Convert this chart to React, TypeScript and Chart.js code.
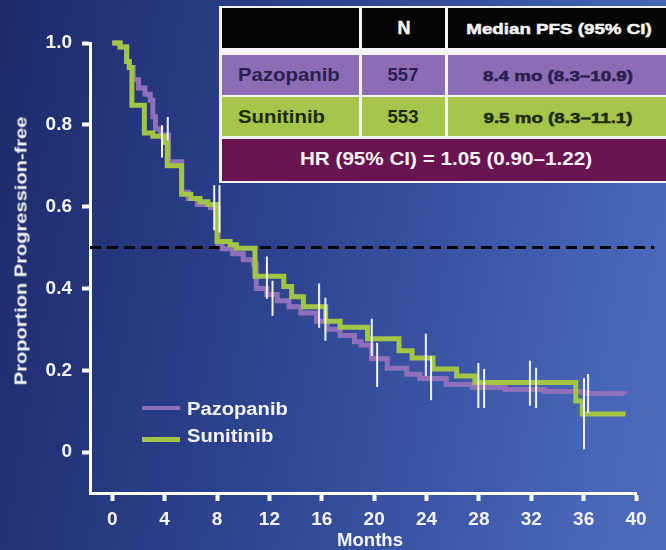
import React, { useEffect, useRef } from 'react';
import { Chart, registerables } from 'chart.js';

Chart.register(...registerables);

// Axis ticks
const xTicks = [0, 4, 8, 12, 16, 20, 24, 28, 32, 36, 40];
const yTicks = [0, 0.2, 0.4, 0.6, 0.8, 1.0];

// Kaplan–Meier steps: month of each drop and the proportion after it
const sunitinibMonths = [0, 0.6, 1.1, 1.3, 1.5, 2.45, 3.1, 4.0, 4.2, 5.3, 6.0, 6.7, 7.3, 8.0, 9.0, 9.5, 10.9, 13.1, 13.7, 14.6, 16.3, 17.4, 19.5, 21.9, 22.9, 24.5, 26.3, 27.7, 35.4, 35.9, 39.2];
const sunitinibSurv = [1.0, 0.99, 0.955, 0.94, 0.848, 0.78, 0.772, 0.757, 0.70, 0.63, 0.62, 0.612, 0.605, 0.515, 0.507, 0.498, 0.43, 0.405, 0.38, 0.355, 0.32, 0.305, 0.277, 0.248, 0.23, 0.203, 0.186, 0.17, 0.125, 0.093, 0.093];

const pazopanibMonths = [0, 0.6, 1.1, 1.3, 1.6, 2.0, 2.5, 2.9, 3.1, 3.3, 3.7, 4.3, 5.3, 5.8, 6.5, 7.5, 8.1, 8.4, 9.2, 10.0, 10.8, 11.0, 11.8, 12.6, 13.5, 14.4, 15.6, 16.4, 17.4, 18.5, 19.0, 19.8, 21.0, 22.5, 23.5, 25.5, 27.5, 30.0, 33.0, 36.0, 39.1];
const pazopanibSurv = [1.0, 0.99, 0.955, 0.94, 0.91, 0.89, 0.875, 0.86, 0.82, 0.79, 0.775, 0.71, 0.635, 0.62, 0.605, 0.598, 0.51, 0.497, 0.485, 0.47, 0.46, 0.40, 0.385, 0.37, 0.355, 0.34, 0.32, 0.30, 0.285, 0.27, 0.262, 0.228, 0.205, 0.19, 0.18, 0.165, 0.158, 0.153, 0.148, 0.143, 0.14];

// Censoring marks (vertical ticks): month, lower and upper proportion
const censorMonths = [3.8, 4.24, 7.79, 8.19, 11.81, 12.24, 15.8, 16.28, 19.82, 20.23, 23.95, 24.35, 27.96, 28.4, 31.9, 32.37, 36.03, 36.34];
const censorLow = [0.72, 0.762, 0.542, 0.537, 0.375, 0.333, 0.304, 0.272, 0.235, 0.159, 0.186, 0.127, 0.108, 0.108, 0.113, 0.108, 0.007, 0.096];
const censorHigh = [0.799, 0.819, 0.652, 0.652, 0.478, 0.419, 0.412, 0.377, 0.326, 0.267, 0.289, 0.235, 0.218, 0.203, 0.223, 0.206, 0.181, 0.191];

const medianLevel = 0.5;

// Summary table
const arms = ['Pazopanib', 'Sunitinib'];
const armN = ['557', '553'];
const armMedian = ['8.4 mo (8.3–10.9)', '9.5 mo (8.3–11.1)'];
const headerN = 'N';
const headerMedian = 'Median PFS (95% CI)';
const hazardText = 'HR (95% CI) = 1.05 (0.90–1.22)';

const xTitle = 'Months';
const yTitle = 'Proportion Progression-free';

const FONT = '"Liberation Sans", Arial, Helvetica, sans-serif';
const GREEN = '#a2c545';
const PURPLE = '#9070bb';
const ROW_PURPLE = '#8b6cb5';
const ROW_GREEN = '#a5c54b';
const ROW_HR = '#6a1351';
const DARK_TEXT = '#2a1f4c';

const steps = (months: number[], surv: number[]) => months.map((m, i) => ({ x: m, y: surv[i] }));

function Text(props: {
  text: string; left: number; top: number; size: number; color: string;
  scale?: number; anchor?: 'left' | 'center'; rotate?: boolean; heavy?: boolean;
}) {
  const { text, left, top, size, color, scale = 1, anchor = 'center', rotate = false, heavy = false } = props;
  const tx = anchor === 'center' ? '-50%' : '0';
  const transform = rotate
    ? `translate(-50%, -50%) rotate(-90deg) scaleX(${scale})`
    : `translate(${tx}, -50%) scaleX(${scale})`;
  return (
    <div
      style={{
        position: 'absolute', left, top, whiteSpace: 'nowrap',
        fontFamily: FONT, fontWeight: 'bold', fontSize: size, lineHeight: 1,
        color, transform, transformOrigin: anchor === 'center' || rotate ? 'center' : 'left center',
        WebkitTextStroke: heavy ? `0.5px ${color}` : undefined,
      }}
    >
      {text}
    </div>
  );
}

function Box(props: { left: number; top: number; width: number; height: number; bg: string }) {
  const { left, top, width, height, bg } = props;
  return <div style={{ position: 'absolute', left, top, width, height, background: bg }} />;
}

export default function App() {
  const canvasRef = useRef<HTMLCanvasElement | null>(null);

  useEffect(() => {
    const canvas = canvasRef.current;
    if (!canvas) return;

    const censorPts = censorMonths.flatMap((m, i) => [
      { x: m, y: censorLow[i] },
      { x: m, y: censorHigh[i] },
      { x: m, y: null as any },
    ]);

    const tickFont = { family: FONT, size: 19, weight: 'bold' as const };

    const chart = new Chart(canvas, {
      type: 'line',
      data: {
        datasets: [
          {
            label: 'censored', data: censorPts as any, borderColor: '#f2f2f2', borderWidth: 2,
            pointRadius: 0, order: 0, clip: false as any, spanGaps: false,
          },
          {
            label: 'Sunitinib', data: steps(sunitinibMonths, sunitinibSurv), borderColor: GREEN,
            borderWidth: 5, stepped: 'before', pointRadius: 0, order: 1, clip: false as any,
          },
          {
            label: 'Pazopanib', data: steps(pazopanibMonths, pazopanibSurv), borderColor: PURPLE,
            borderWidth: 5, stepped: 'before', pointRadius: 0, order: 2, clip: false as any,
          },
          {
            label: 'median', data: [{ x: -1.7, y: medianLevel }, { x: 41.4, y: medianLevel }],
            borderColor: '#050505', borderWidth: 3, borderDash: [11, 6], pointRadius: 0, order: 3,
            clip: false as any,
          },
        ],
      },
      options: {
        responsive: false,
        animation: false,
        events: [],
        layout: { padding: { top: 43, right: 30, left: 0, bottom: 0 } },
        plugins: { legend: { display: false }, tooltip: { enabled: false } },
        scales: {
          x: {
            type: 'linear', min: -1.7, max: 40,
            afterBuildTicks: (s: any) => { s.ticks = xTicks.map((v) => ({ value: v })); },
            afterFit: (s: any) => { s.height = 57; },
            grid: { drawOnChartArea: false, drawTicks: true, tickLength: 8, tickWidth: 4, tickColor: '#ffffff' },
            border: { display: true, color: '#ffffff', width: 3 },
            ticks: { color: '#f4f4f4', font: tickFont, padding: 7, autoSkip: false, maxRotation: 0, callback: (v: any) => String(v) },
          },
          y: {
            type: 'linear', min: -0.1, max: 1.0,
            afterBuildTicks: (s: any) => { s.ticks = yTicks.map((v) => ({ value: v })); },
            afterFit: (s: any) => { s.width = 90; },
            grid: { drawOnChartArea: false, drawTicks: true, tickLength: 8, tickWidth: 4, tickColor: '#ffffff' },
            border: { display: true, color: '#ffffff', width: 3 },
            ticks: {
              color: '#f4f4f4', font: tickFont, padding: 10, autoSkip: false,
              callback: (v: any) => (Number(v) === 0 ? '0' : Number(v).toFixed(1)),
            },
          },
        },
      },
    });
    return () => chart.destroy();
  }, []);

  // Table geometry
  const tLeft = 219;
  const c1 = [222, 359];
  const c2 = [362, 445];
  const c3 = [448, 680];
  const rows = [
    { top: 8, bottom: 48 },
    { top: 55, bottom: 95 },
    { top: 97, bottom: 136 },
    { top: 139, bottom: 181 },
  ];
  const rowBg = [ROW_PURPLE, ROW_GREEN];
  const rowText = [DARK_TEXT, '#1d2a10'];

  return (
    <div
      style={{
        position: 'fixed', left: 0, top: 0, width: 666, height: 550, overflow: 'hidden',
        background: 'linear-gradient(100deg, #1c2a68 0%, #25377d 22%, #2f4591 45%, #3b56a6 68%, #4766b7 88%, #4c6bbd 100%)',
      }}
    >
      <canvas ref={canvasRef} width={666} height={550} style={{ position: 'absolute', left: 0, top: 0, width: 666, height: 550 }} />

      {/* axis titles */}
      <Text text={yTitle} left={21} top={251} size={17} color="#f4f4f4" scale={1.18} rotate />
      <Text text={xTitle} left={370} top={540} size={18} color="#f4f4f4" scale={1.03} />

      {/* legend */}
      <Box left={142} top={406} width={38} height={4} bg={PURPLE} />
      <Box left={142} top={437} width={38} height={5} bg={GREEN} />
      <Text text={arms[0]} left={187} top={409} size={18} color="#f4f4f4" scale={1.12} anchor="left" />
      <Text text={arms[1]} left={187} top={436} size={18} color="#f4f4f4" scale={1.12} anchor="left" />

      {/* summary table */}
      <Box left={tLeft} top={6} width={470} height={177} bg="#f4f4f4" />
      <Box left={c1[0]} top={rows[0].top} width={c1[1] - c1[0]} height={rows[0].bottom - rows[0].top} bg="#050505" />
      <Box left={c2[0]} top={rows[0].top} width={c2[1] - c2[0]} height={rows[0].bottom - rows[0].top} bg="#050505" />
      <Box left={c3[0]} top={rows[0].top} width={c3[1] - c3[0]} height={rows[0].bottom - rows[0].top} bg="#050505" />
      <Text text={headerN} left={404} top={28} size={18} color="#f4f4f4" heavy />
      <Text text={headerMedian} left={559} top={28} size={15} color="#f4f4f4" scale={1.25} heavy />

      {arms.map((arm, i) => {
        const r = rows[i + 1];
        const h = r.bottom - r.top;
        const mid = (r.top + r.bottom) / 2;
        return (
          <React.Fragment key={arm}>
            <Box left={c1[0]} top={r.top} width={c1[1] - c1[0]} height={h} bg={rowBg[i]} />
            <Box left={c2[0]} top={r.top} width={c2[1] - c2[0]} height={h} bg={rowBg[i]} />
            <Box left={c3[0]} top={r.top} width={c3[1] - c3[0]} height={h} bg={rowBg[i]} />
            <Text text={arm} left={238} top={mid} size={18.5} color={rowText[i]} scale={1.1} anchor="left" />
            <Text text={armN[i]} left={403} top={mid} size={18.5} color={rowText[i]} />
            <Text text={armMedian[i]} left={558} top={mid} size={15} color={rowText[i]} scale={1.25} heavy />
          </React.Fragment>
        );
      })}

      <Box left={c1[0]} top={rows[3].top} width={c3[1] - c1[0]} height={rows[3].bottom - rows[3].top} bg={ROW_HR} />
      <Text text={hazardText} left={446} top={(rows[3].top + rows[3].bottom) / 2} size={17.5} color="#f4f4f4" scale={1.18} />
    </div>
  );
}
